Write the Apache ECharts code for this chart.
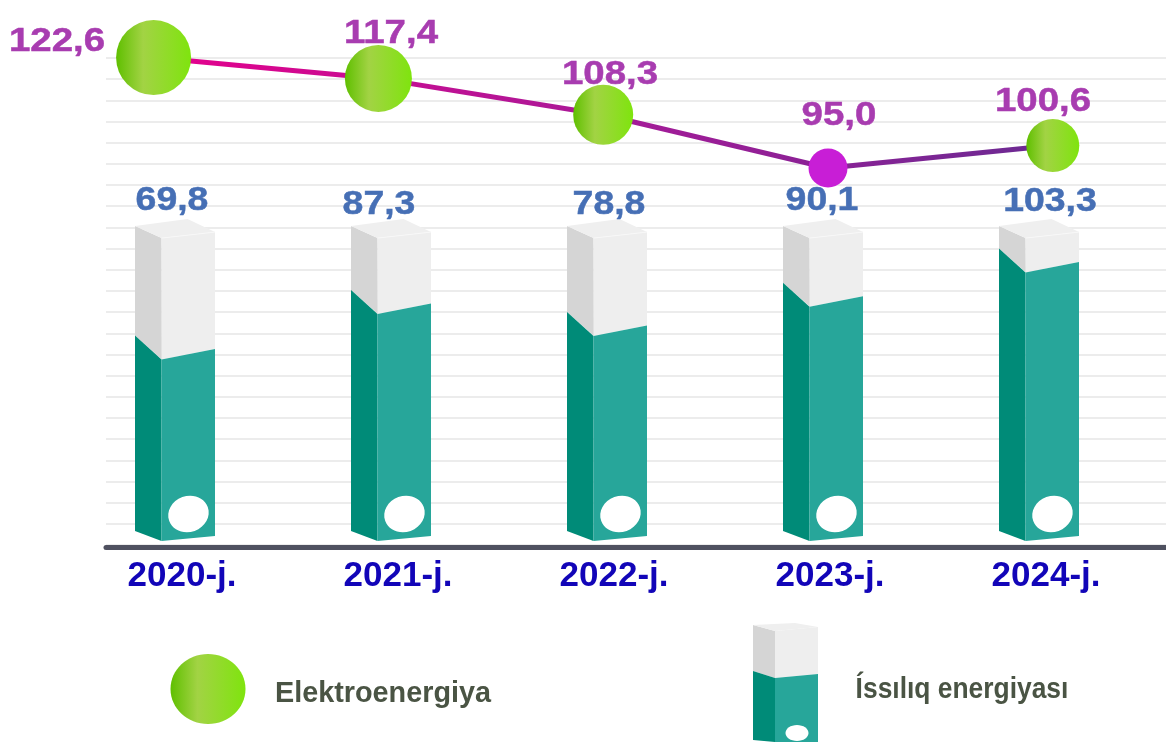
<!DOCTYPE html>
<html>
<head>
<meta charset="utf-8">
<style>html,body{margin:0;padding:0;background:#fff}#c{width:1166px;height:742px}</style>
<script src="https://cdn.jsdelivr.net/npm/echarts@6/dist/echarts.min.js"></script>
</head>
<body>
<div id="c"></div>
<script>
const categories = ['2020-j.', '2021-j.', '2022-j.', '2023-j.', '2024-j.'];
const elektroValues = [122.6, 117.4, 108.3, 95.0, 100.6];
const issiqlikValues = [69.8, 87.3, 78.8, 90.1, 103.3];
const barCapacity = 116.5;
const seriesNames = ['Elektroenergiya', 'Íssılıq energiyası'];

// styling and layout only
const circleSizes = [75, 67, 60, 39, 53];
const lineLabelNudge = [[-96.6, -16], [12.6, -45], [6.8, -40.5], [11, -52], [-9.8, -43.5]];
const barLabelNudge = [[-3, 1.5], [-12, 5.5], [2, 5.5], [-1, 1.5], [11, 2.5]];
const C = {
  tealSide: '#008b78', tealFront: '#27a69a',
  lightSide: '#d5d5d5', lightFront: '#eeeeee', lightTop: '#efefef',
  purple: '#a83cb0', blue: '#466fb5', xLabel: '#1205b8',
  legendText: '#4a5444', grid: '#e6e6e6', base: '#4f5160'
};
const fmt = v => v.toFixed(1).replace('.', ',');
const green = () => new echarts.graphic.LinearGradient(0, 0, 1, 0, [
  { offset: 0, color: '#5fbf00' },
  { offset: 0.36, color: '#a2d344' },
  { offset: 1, color: '#7fe40e' }
]);
const poly = (points, fill) => ({ type: 'polygon', shape: { points }, style: { fill } });
const labelFont = "bold 34px 'Liberation Sans', Arial, sans-serif";

function renderBar(params, api) {
  const i = api.value(0), v = api.value(1);
  const p = api.coord([i, v]);
  const base = api.coord([i, 0])[1];
  const top = api.coord([i, barCapacity])[1];
  const cx = p[0], y = p[1];
  const x0 = cx - 40, x1 = cx - 13.5, x2 = cx + 40;
  const yL = y - 24, yR = y - 10.5;
  return {
    type: 'group',
    children: [
      poly([[x0, top - 12], [x1, top], [x1 + 0.5, y], [x0, yL]], C.lightSide),
      poly([[x1, top], [x2, top - 6], [x2, yR], [x1, y]], C.lightFront),
      poly([[x0, top - 12], [x1 + 26, top - 19], [x2, top - 6], [x1, top]], C.lightTop),
      { type: 'polyline', shape: { points: [[x1, top], [x2, top - 6]] }, style: { stroke: '#f8f8f8', lineWidth: 1, fill: 'none' } },
      poly([[x0, yL], [x1, y], [x1, base], [x0, base - 10]], C.tealSide),
      poly([[x1, y], [x2, yR], [x2, base - 5], [x1, base]], C.tealFront),
      { type: 'ellipse', x: cx + 13.5, y: base - 27, rotation: 0.35,
        shape: { cx: 0, cy: 0, rx: 20.5, ry: 18 }, style: { fill: '#ffffff' } },
      { type: 'text', x: cx + barLabelNudge[i][0], y: top - 39 + barLabelNudge[i][1], scaleX: 1.1,
        style: { text: fmt(v), font: labelFont, fill: C.blue, stroke: C.blue, lineWidth: 0.5, align: 'center', verticalAlign: 'middle' } }
    ]
  };
}
function renderLineLabel(params, api) {
  const i = api.value(0), v = api.value(1);
  const p = api.coord([i, v]);
  return { type: 'text', x: p[0] + lineLabelNudge[i][0], y: p[1] + lineLabelNudge[i][1], scaleX: 1.13,
    style: { text: fmt(v), font: labelFont, fill: C.purple, stroke: C.purple, lineWidth: 0.5, align: 'center', verticalAlign: 'middle' } };
}

const hiddenX = gridIndex => ({ type: 'category', gridIndex, data: categories, show: false });
const hiddenY = (gridIndex, min, max) => ({ type: 'value', gridIndex, min, max, show: false });

const option = {
  animation: false,
  backgroundColor: '#ffffff',
  grid: [
    { left: 106, top: 58, width: 1060, height: 487 },   // rules + baseline
    { left: 67, top: 47, width: 1080, height: 494 },    // bars
    { left: 41.2, top: 28, width: 1124, height: 200 }   // line
  ],
  xAxis: [
    { type: 'category', gridIndex: 0, data: categories, position: 'bottom', offset: 2,
      axisLine: { show: true, onZero: false, lineStyle: { color: C.base, width: 5, cap: 'round' } },
      axisTick: { show: false }, axisLabel: { show: false } },
    { type: 'category', gridIndex: 1, data: categories,
      axisLine: { show: false }, axisTick: { show: false },
      axisLabel: { show: true, interval: 0, margin: 18, padding: [0, 0, 0, 14],
        color: C.xLabel, fontSize: 35, fontWeight: 'bold', fontFamily: "'Liberation Sans', Arial, sans-serif" } },
    hiddenX(2)
  ],
  yAxis: [
    { type: 'value', gridIndex: 0, min: 0, max: 230, interval: 10,
      axisLine: { show: false }, axisTick: { show: false }, axisLabel: { show: false },
      splitLine: { show: true, lineStyle: { color: C.grid, width: 1.5 } } },
    hiddenY(1, 0, 190),
    hiddenY(2, 80, 130)
  ],
  series: [
    { name: seriesNames[1], type: 'custom', xAxisIndex: 1, yAxisIndex: 1, z: 3, clip: false,
      renderItem: renderBar, data: issiqlikValues.map((v, i) => [i, v]) },
    { name: seriesNames[0], type: 'line', xAxisIndex: 2, yAxisIndex: 2, z: 4, clip: false,
      lineStyle: { width: 5, color: new echarts.graphic.LinearGradient(0, 0, 1, 0, [
        { offset: 0, color: '#e6008c' }, { offset: 0.5, color: '#a81a98' }, { offset: 1, color: '#6a2a92' }
      ]) },
      symbol: 'circle', showAllSymbol: true, emphasis: { disabled: true },
      data: elektroValues.map((v, i) => ({
        value: v, symbolSize: circleSizes[i],
        itemStyle: { color: i === 3 ? '#c81ed6' : green() }
      })) },
    { name: 'labels', type: 'custom', xAxisIndex: 2, yAxisIndex: 2, z: 5, clip: false,
      renderItem: renderLineLabel, data: elektroValues.map((v, i) => [i, v]) }
  ],
  graphic: [
    { type: 'ellipse', shape: { cx: 208, cy: 689, rx: 37.5, ry: 35 }, style: { fill: green() } },
    { type: 'text', x: 383, y: 694, scaleX: 0.96, style: { text: seriesNames[0], fill: C.legendText,
      font: "bold 30px 'Liberation Sans', Arial, sans-serif", align: 'center', verticalAlign: 'middle' } },
    poly([[753, 625], [775, 631], [775, 678], [753, 671]], C.lightSide),
    poly([[775, 631], [818, 627], [818, 674], [775, 678]], C.lightFront),
    poly([[753, 625], [795, 623], [818, 627], [775, 631]], C.lightTop),
    poly([[753, 671], [775, 678], [775, 742], [753, 740]], C.tealSide),
    poly([[775, 678], [818, 674], [818, 742], [775, 742]], C.tealFront),
    { type: 'ellipse', shape: { cx: 797, cy: 733, rx: 11.5, ry: 8 }, style: { fill: '#ffffff' } },
    { type: 'text', x: 962, y: 690, scaleX: 0.88, style: { text: seriesNames[1], fill: C.legendText,
      font: "bold 30px 'Liberation Sans', Arial, sans-serif", align: 'center', verticalAlign: 'middle' } }
  ]
};
echarts.init(document.getElementById('c'), null, { renderer: 'canvas' }).setOption(option);
</script>
</body>
</html>
